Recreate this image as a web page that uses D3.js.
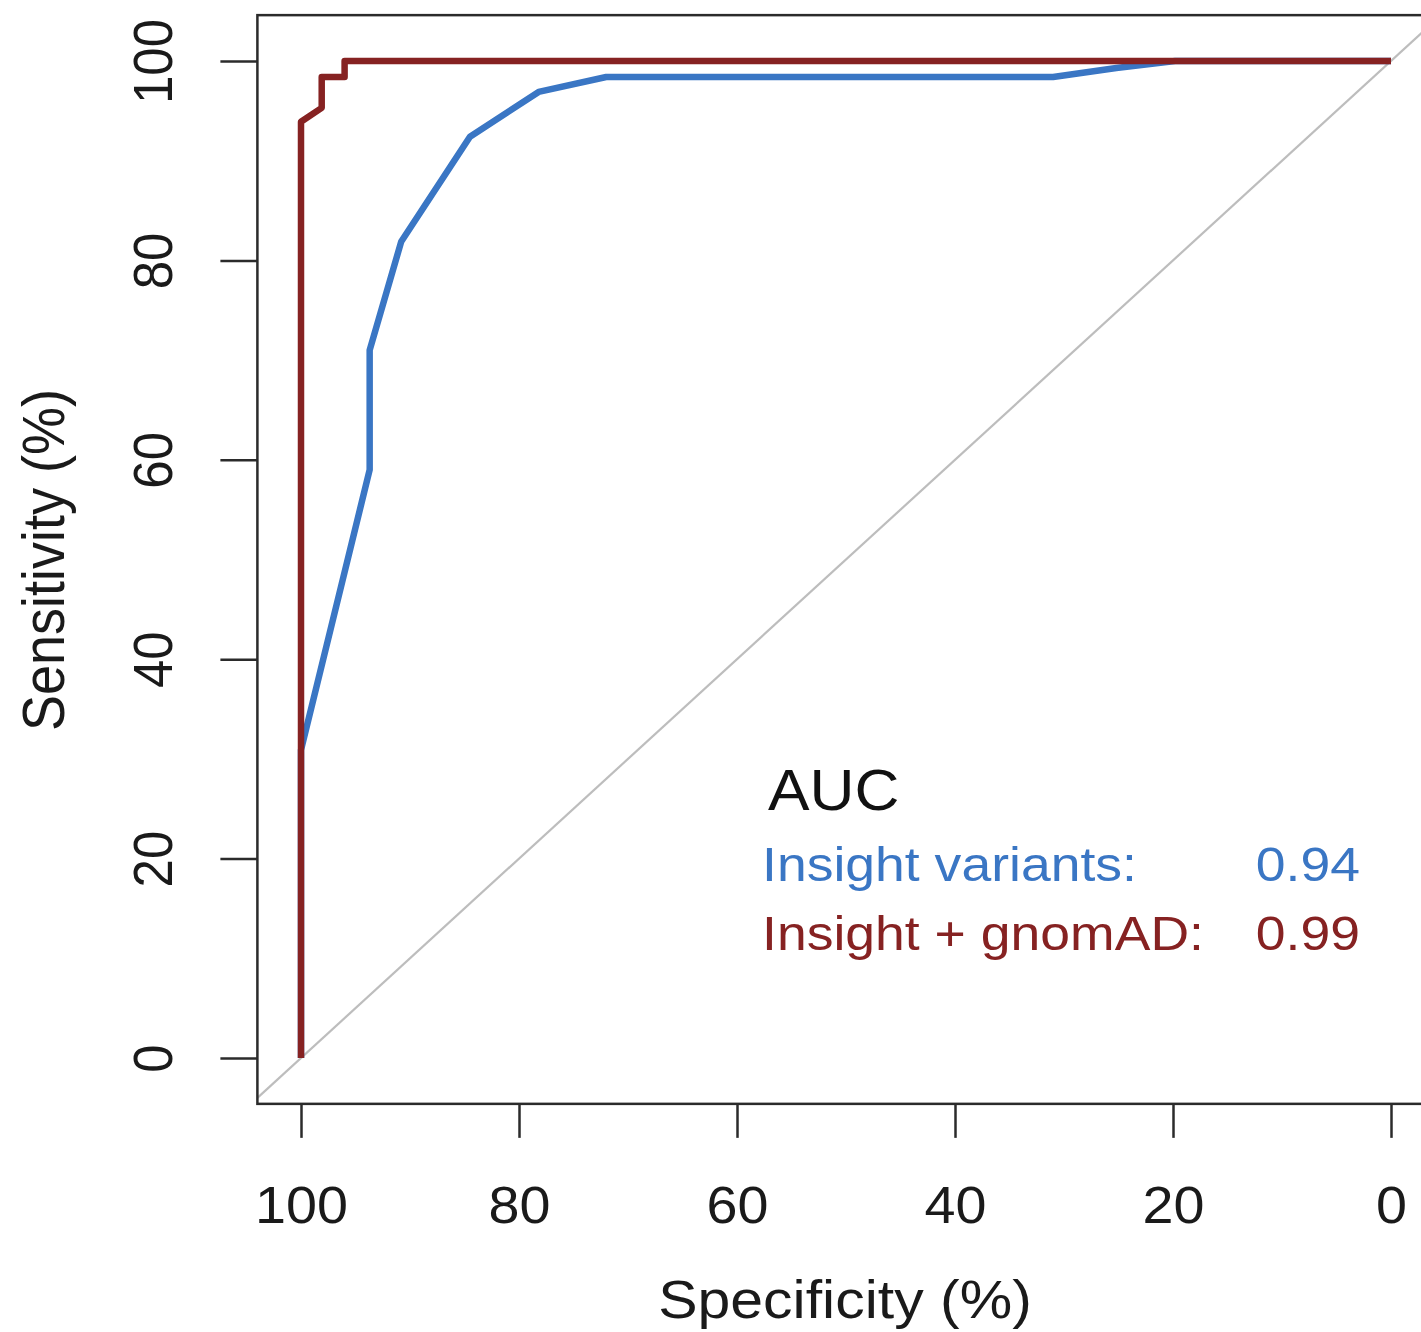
<!DOCTYPE html>
<html>
<head>
<meta charset="utf-8">
<script src="https://cdn.jsdelivr.net/npm/d3@7"></script>
<style>
  body { margin: 0; background: #fff; }
  svg { display: block; }
  text { font-family: 'Liberation Sans', Arial, Helvetica, sans-serif; }
</style>
</head>
<body>
<div class="roc-chart"></div>
<script>
// tick labels
const specTicks = [100, 80, 60, 40, 20, 0];
const sensTicks = [0, 20, 40, 60, 80, 100];

// Insight variants ROC curve (specificity %, sensitivity %)
const insightSpec = [100, 100, 93.7, 93.7, 90.8, 84.5, 78.2, 72.0, 31.0, 25.2, 19.8, 0];
const insightSens = [0, 30.9, 59.0, 71.0, 81.9, 92.4, 96.9, 98.4, 98.4, 99.3, 100, 100];

// Insight + gnomAD ROC curve
const gnomadSpec = [100, 100, 98.1, 98.1, 96.0, 96.0, 0];
const gnomadSens = [0, 93.9, 95.3, 98.4, 98.4, 100, 100];

// legend
const seriesNames = ['Insight variants:', 'Insight + gnomAD:'];
const aucValues = ['0.94', '0.99'];
const seriesColors = ['#3a76c4', '#862222'];

const width = 1421;
const height = 1332;
const sx = 1.093; // the picture is stretched horizontally

const x = d3.scaleLinear().domain([100, 0]).range([301, 1391]);
const y = d3.scaleLinear().domain([0, 100]).range([1058, 61]);

const box = { x0: x(104), x1: x(-4), y0: y(104.6), y1: y(-4.6) };

const svg = d3
  .select('.roc-chart')
  .append('svg')
  .attr('width', width)
  .attr('height', height);

svg
  .append('clipPath')
  .attr('id', 'plot-clip')
  .append('rect')
  .attr('x', box.x0)
  .attr('y', box.y0)
  .attr('width', box.x1 - box.x0)
  .attr('height', box.y1 - box.y0);

const plot = svg.append('g').attr('clip-path', 'url(#plot-clip)');

// reference diagonal
plot
  .append('line')
  .attr('x1', x(104))
  .attr('y1', y(-4))
  .attr('x2', x(-4))
  .attr('y2', y(104))
  .attr('stroke', '#bdbdbd')
  .attr('stroke-width', 2.2);

const line = d3
  .line()
  .x((d) => x(d[0]))
  .y((d) => y(d[1]));

const curves = [
  d3.zip(insightSpec, insightSens),
  d3.zip(gnomadSpec, gnomadSens),
];

curves.forEach((pts, i) => {
  plot
    .append('path')
    .attr('d', line(pts))
    .attr('fill', 'none')
    .attr('stroke', seriesColors[i])
    .attr('stroke-width', 6.5)
    .attr('stroke-linejoin', 'round');
});

// box
svg
  .append('rect')
  .attr('x', box.x0)
  .attr('y', box.y0)
  .attr('width', box.x1 - box.x0)
  .attr('height', box.y1 - box.y0)
  .attr('fill', 'none')
  .attr('stroke', '#2b2b2b')
  .attr('stroke-width', 2.5);

// axes
const xAxisGroup = svg
  .append('g')
  .attr('transform', `translate(0, ${box.y1})`)
  .call(d3.axisBottom(x).tickValues(specTicks).tickSize(34).tickFormat(d3.format('d')));

const yAxisGroup = svg
  .append('g')
  .attr('transform', `translate(${box.x0}, 0)`)
  .call(d3.axisLeft(y).tickValues(sensTicks).tickSize(37).tickFormat(d3.format('d')));

[xAxisGroup, yAxisGroup].forEach((g) => {
  g.select('.domain').remove();
  g.selectAll('line').attr('stroke', '#2b2b2b').attr('stroke-width', 2.5);
  g.attr('font-family', null).attr('font-size', null);
  g.selectAll('text')
    .attr('x', null)
    .attr('y', null)
    .attr('dy', null)
    .attr('fill', '#1a1a1a')
    .style('font-size', '51px')
    .attr('text-anchor', 'middle');
});

xAxisGroup
  .selectAll('text')
  .attr('transform', `translate(0, ${1223 - box.y1}) scale(${sx}, 1)`);

yAxisGroup
  .selectAll('text')
  .attr('transform', `translate(${172 - box.x0}, 0) scale(${sx}, 1) rotate(-90)`);

// axis titles
svg
  .append('text')
  .attr('transform', `translate(845, 1318) scale(${sx}, 1)`)
  .attr('text-anchor', 'middle')
  .style('font-size', '54px')
  .attr('fill', '#1a1a1a')
  .text('Specificity (%)');

svg
  .append('text')
  .attr('transform', `translate(64, 560) scale(${sx}, 1) rotate(-90)`)
  .attr('text-anchor', 'middle')
  .style('font-size', '54px')
  .attr('fill', '#1a1a1a')
  .text('Sensitivity (%)');

// AUC legend
svg
  .append('text')
  .attr('transform', `translate(768, 810) scale(${sx}, 1)`)
  .style('font-size', '57px')
  .attr('fill', '#111')
  .text('AUC');

const legendBaselines = [881, 950];

seriesNames.forEach((name, i) => {
  svg
    .append('text')
    .attr('transform', `translate(762, ${legendBaselines[i]}) scale(${sx}, 1)`)
    .style('font-size', '49px')
    .attr('fill', seriesColors[i])
    .text(name);
  svg
    .append('text')
    .attr('transform', `translate(1360, ${legendBaselines[i]}) scale(${sx}, 1)`)
    .attr('text-anchor', 'end')
    .style('font-size', '49px')
    .attr('fill', seriesColors[i])
    .text(aucValues[i]);
});
</script>
</body>
</html>
